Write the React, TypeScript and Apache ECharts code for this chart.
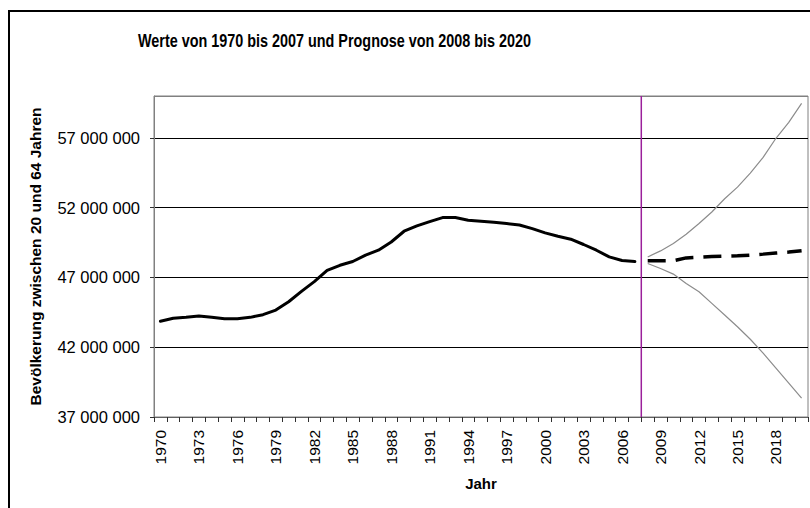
import React, { useEffect, useRef } from "react";
import * as echarts from "echarts";

const years: string[] = [
  "1970","1971","1972","1973","1974","1975","1976","1977","1978","1979",
  "1980","1981","1982","1983","1984","1985","1986","1987","1988","1989",
  "1990","1991","1992","1993","1994","1995","1996","1997","1998","1999",
  "2000","2001","2002","2003","2004","2005","2006","2007","2008","2009",
  "2010","2011","2012","2013","2014","2015","2016","2017","2018","2019","2020",
];

// Observed values 1970-2007
const observed: number[] = [
  43860000, 44070000, 44140000, 44240000, 44140000, 44040000, 44040000, 44140000, 44330000, 44660000,
  45260000, 46000000, 46700000, 47500000, 47870000, 48140000, 48600000, 48950000, 49540000, 50310000,
  50690000, 51000000, 51290000, 51290000, 51100000, 51020000, 50950000, 50860000, 50760000, 50500000,
  50190000, 49950000, 49740000, 49360000, 48950000, 48470000, 48210000, 48140000,
];

// Forecast 2008-2020
const forecastMid: number[] = [
  48190000, 48190000, 48200000, 48400000, 48450000, 48500000, 48520000, 48550000, 48600000, 48670000,
  48750000, 48820000, 48920000,
];
const forecastHigh: number[] = [
  48470000, 48900000, 49430000, 50090000, 50860000, 51690000, 52640000, 53470000, 54470000, 55600000,
  56970000, 58110000, 59470000,
];
const forecastLow: number[] = [
  48000000, 47640000, 47240000, 46570000, 45970000, 45140000, 44310000, 43470000, 42570000, 41570000,
  40500000, 39430000, 38360000,
];

// Position of the divider between observed and forecast (category boundary index)
const dividerIndex = 38;
const yMin = 37000000;
const yMax = 60000000;
const yInterval = 5000000;

const titleText = "Werte von 1970 bis 2007 und Prognose von 2008 bis 2020";
const yName = "Bevölkerung zwischen 20 und 64 Jahren";
const xName = "Jahr";

const FONT = "'Liberation Sans', Arial, sans-serif";

function fmt(v: number): string {
  return Math.round(v).toString().replace(/\B(?=(\d{3})+(?!\d))/g, " ");
}

export default function App() {
  const ref = useRef<HTMLDivElement>(null);
  useEffect(() => {
    if (!ref.current) return;
    const chart = echarts.init(ref.current, null, { renderer: "svg" });
    const nObs = observed.length;
    const obsData = years.map((_, i) => (i < nObs ? observed[i] : null));
    const pad = (arr: number[]) => years.map((_, i) => (i >= nObs ? arr[i - nObs] : null));

    chart.setOption({
      animation: false,
      backgroundColor: "#ffffff",
      textStyle: { fontFamily: FONT },
      graphic: [
        {
          type: "rect",
          shape: { x: 9, y: 11, width: 900, height: 600 },
          style: { fill: "none", stroke: "#000", lineWidth: 2 },
          silent: true,
        },
        {
          type: "text",
          x: 334.5,
          y: 40,
          scaleX: 0.8,
          style: {
            text: titleText,
            align: "center",
            verticalAlign: "middle",
            fontFamily: FONT,
            fontSize: 18,
            fontWeight: "bold",
            fill: "#000",
          },
        },
      ],
      grid: {
        left: 154,
        right: 2,
        top: 96,
        bottom: 91,
        show: true,
        borderColor: "#808080",
        borderWidth: 1,
        backgroundColor: "#fff",
      },
      xAxis: [
        {
          type: "category",
          data: years,
          boundaryGap: true,
          name: xName,
          nameLocation: "middle",
          nameGap: 59,
          nameTextStyle: { fontFamily: FONT, fontSize: 15, fontWeight: "bold", color: "#000" },
          axisLine: { lineStyle: { color: "#606060", width: 1 } },
          axisTick: { show: true, interval: 0, length: 5, lineStyle: { color: "#303030" } },
          axisLabel: {
            interval: 2,
            rotate: 90,
            margin: 13,
            fontFamily: FONT,
            fontSize: 15.5,
            color: "#000",
          },
          splitLine: { show: false },
        },
        {
          type: "value",
          min: 0,
          max: years.length,
          show: false,
        },
      ],
      yAxis: {
        type: "value",
        min: yMin,
        max: yMax,
        interval: yInterval,
        name: yName,
        nameLocation: "middle",
        nameRotate: 90,
        nameGap: 111,
        nameTextStyle: { fontFamily: FONT, fontSize: 15.5, fontWeight: "bold", color: "#000" },
        axisLine: { show: true, lineStyle: { color: "#808080" } },
        axisTick: { show: true, length: 4, lineStyle: { color: "#303030" } },
        axisLabel: {
          margin: 14,
          fontFamily: FONT,
          fontSize: 16.5,
          color: "#000",
          showMaxLabel: false,
          formatter: (v: number) => fmt(v),
        },
        splitLine: {
          show: true,
          lineStyle: {
            color: ["#000", "#000", "#000", "#000", "#000", "#808080"],
            width: 1,
          },
        },
      },
      series: [
        {
          type: "line",
          name: "divider",
          xAxisIndex: 1,
          data: [
            [dividerIndex, yMin],
            [dividerIndex, yMax],
          ],
          symbol: "none",
          lineStyle: { color: "#9b1f9b", width: 1.5 },
          z: 1,
        },
        {
          type: "line",
          name: "Werte",
          data: obsData,
          symbol: "none",
          connectNulls: false,
          lineStyle: { color: "#000", width: 3, cap: "round", join: "round" },
          z: 3,
        },
        {
          type: "line",
          name: "Prognose hoch",
          data: pad(forecastHigh),
          symbol: "none",
          lineStyle: { color: "#8c8c8c", width: 1.2 },
          z: 2,
        },
        {
          type: "line",
          name: "Prognose niedrig",
          data: pad(forecastLow),
          symbol: "none",
          lineStyle: { color: "#8c8c8c", width: 1.2 },
          z: 2,
        },
        {
          type: "line",
          name: "Prognose mittel",
          data: pad(forecastMid),
          symbol: "none",
          lineStyle: { color: "#000", width: 3.5, type: [18, 10] },
          z: 3,
        },
      ],
    });
    return () => chart.dispose();
  }, []);
  return (
    <div
      ref={ref}
      style={{ position: "fixed", left: 0, top: 0, width: 810, height: 508 }}
    />
  );
}
